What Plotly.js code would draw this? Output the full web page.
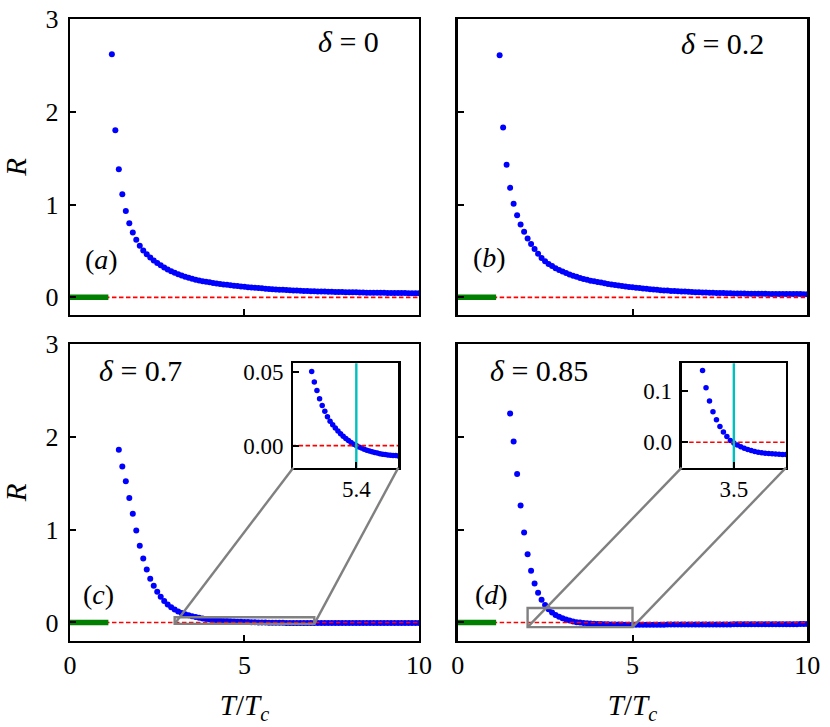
<!DOCTYPE html>
<html>
<head>
<meta charset="utf-8">
<script src="https://cdn.plot.ly/plotly-3.0.1.min.js"></script>
<style>
  html, body { margin: 0; padding: 0; background: #fff; }
  #fig { width: 830px; height: 727px; }
</style>
</head>
<body>
<div id="fig"></div>
<script>
// temperature grid T/Tc shared by all four panels
const TEMP = [
  1.2, 1.3, 1.4, 1.5, 1.6, 1.7, 1.8, 1.9, 2.0, 2.1,
  2.2, 2.3, 2.4, 2.5, 2.6, 2.7, 2.8, 2.9, 3.0, 3.1,
  3.2, 3.3, 3.4, 3.5, 3.6, 3.7, 3.8, 3.9, 4.0, 4.1,
  4.2, 4.3, 4.4, 4.5, 4.6, 4.7, 4.8, 4.9, 5.0, 5.1,
  5.2, 5.3, 5.4, 5.5, 5.6, 5.7, 5.8, 5.9, 6.0, 6.1,
  6.2, 6.3, 6.4, 6.5, 6.6, 6.7, 6.8, 6.9, 7.0, 7.1,
  7.2, 7.3, 7.4, 7.5, 7.6, 7.7, 7.8, 7.9, 8.0, 8.1,
  8.2, 8.3, 8.4, 8.5, 8.6, 8.7, 8.8, 8.9, 9.0, 9.1,
  9.2, 9.3, 9.4, 9.5, 9.6, 9.7, 9.8, 9.9, 10.0
];

// delta = 0
const R_A = [
  2.62, 1.80, 1.38, 1.11, 0.93, 0.80, 0.70, 0.62, 0.555, 0.505,
  0.465, 0.43, 0.398, 0.37, 0.345, 0.322, 0.30, 0.282, 0.265, 0.25,
  0.236, 0.223, 0.211, 0.20, 0.19, 0.182, 0.175, 0.168, 0.162, 0.156,
  0.150, 0.145, 0.140, 0.135, 0.130, 0.126, 0.122, 0.118, 0.114, 0.110,
  0.106, 0.103, 0.100, 0.097, 0.094, 0.091, 0.088, 0.085, 0.083, 0.081,
  0.079, 0.077, 0.075, 0.073, 0.071, 0.070, 0.068, 0.067, 0.065, 0.064,
  0.063, 0.062, 0.061, 0.060, 0.059, 0.058, 0.057, 0.056, 0.055, 0.054,
  0.054, 0.053, 0.052, 0.051, 0.051, 0.050, 0.050, 0.049, 0.049, 0.048,
  0.048, 0.047, 0.047, 0.046, 0.046, 0.045, 0.045, 0.044, 0.044
];

// delta = 0.2
const R_B = [
  2.61, 1.83, 1.43, 1.18, 1.01, 0.885, 0.785, 0.706, 0.635, 0.575,
  0.52, 0.47, 0.425, 0.39, 0.36, 0.337, 0.315, 0.296, 0.279, 0.262,
  0.247, 0.233, 0.221, 0.21, 0.199, 0.189, 0.18, 0.173, 0.166, 0.159,
  0.152, 0.145, 0.139, 0.133, 0.128, 0.123, 0.118, 0.113, 0.108, 0.104,
  0.100, 0.096, 0.092, 0.088, 0.085, 0.081, 0.078, 0.075, 0.073, 0.070,
  0.068, 0.066, 0.064, 0.062, 0.060, 0.058, 0.056, 0.055, 0.053, 0.052,
  0.050, 0.049, 0.048, 0.047, 0.046, 0.045, 0.044, 0.043, 0.042, 0.041,
  0.041, 0.040, 0.040, 0.039, 0.039, 0.038, 0.038, 0.037, 0.037, 0.037,
  0.036, 0.036, 0.036, 0.035, 0.035, 0.035, 0.035, 0.034, 0.034
];

// delta = 0.7
const R_C = [
  null, null, 1.86, 1.68, 1.52, 1.34, 1.17, 0.99, 0.825, 0.69,
  0.57, 0.47, 0.395, 0.33, 0.276, 0.23, 0.193, 0.163, 0.139, 0.119,
  0.103, 0.089, 0.077, 0.067, 0.058, 0.0504, 0.0432, 0.0375, 0.0319, 0.0273,
  0.0233, 0.0197, 0.0165, 0.0142, 0.0120, 0.0100, 0.0081, 0.0064, 0.0048, 0.0034,
  0.0021, 0.0010, 0.0000, -0.0009, -0.0017, -0.0024, -0.0031, -0.0037, -0.0042, -0.0047,
  -0.0051, -0.0055, -0.0058, -0.0061, -0.0063, -0.0065, -0.0067, -0.0068, -0.0070, -0.0071,
  -0.0072, -0.0072, -0.0073, -0.0073, -0.0073, -0.0073, -0.0073, -0.0073, -0.0072, -0.0072,
  -0.0072, -0.0071, -0.0071, -0.0070, -0.0070, -0.0069, -0.0069, -0.0068, -0.0068, -0.0067,
  -0.0067, -0.0066, -0.0066, -0.0065, -0.0065, -0.0064, -0.0064, -0.0063, -0.0063
];

// delta = 0.85
const R_D = [
  null, null, null, 2.25, 1.95, 1.60, 1.26, 0.97, 0.735, 0.556,
  0.42, 0.32, 0.244, 0.187, 0.141, 0.107, 0.081, 0.060, 0.044, 0.031,
  0.020, 0.011, 0.0033, -0.0015, -0.0055, -0.009, -0.012, -0.0145, -0.0165, -0.018,
  -0.0195, -0.0205, -0.0215, -0.022, -0.0227, -0.0232, -0.0236, -0.0239, -0.024, -0.0241,
  -0.0241, -0.0241, -0.024, -0.024, -0.0239, -0.0238, -0.0237, -0.0236, -0.0235, -0.0234,
  -0.0232, -0.0231, -0.023, -0.0228, -0.0227, -0.0225, -0.0224, -0.0222, -0.0221, -0.0219,
  -0.0218, -0.0216, -0.0215, -0.0213, -0.0212, -0.021, -0.0209, -0.0207, -0.0206, -0.0204,
  -0.0203, -0.0201, -0.02, -0.0198, -0.0197, -0.0195, -0.0194, -0.0192, -0.0191, -0.019,
  -0.0188, -0.0187, -0.0186, -0.0184, -0.0183, -0.0182, -0.018, -0.0179, -0.0178
];

// T < Tc segment (green) and R = 0 reference (red dashed)
const T_BELOW = [0, 1.1];
const R_BELOW = [0, 0];
const T_REF = [0, 10];
const R_REF = [0, 0];

// sign change temperatures (cyan lines in insets)
const CROSS_C = 5.4;
const CROSS_D = 3.5;

// zoom windows of the insets
const ZOOM_C_T = [3, 7];
const ZOOM_C_R = [-0.015, 0.056];
const ZOOM_D_T = [2, 5];
const ZOOM_D_R = [-0.05, 0.155];

const FONT = '"Liberation Serif", "DejaVu Serif", serif';
const BLUE = '#0000ff';
const GREY = '#808080';

function dots(y, ax, size) {
  return {
    x: TEMP, y, xaxis: 'x' + ax, yaxis: 'y' + ax,
    type: 'scatter', mode: 'markers',
    marker: { color: BLUE, size, line: { width: 0 } },
    hoverinfo: 'skip', showlegend: false,
  };
}

function refLine(ax) {
  return {
    x: T_REF, y: R_REF, xaxis: 'x' + ax, yaxis: 'y' + ax,
    type: 'scatter', mode: 'lines',
    line: { color: '#ff0000', width: 1.6, dash: '4.5px,2.5px' },
    hoverinfo: 'skip', showlegend: false,
  };
}

function belowLine(ax) {
  return {
    x: T_BELOW, y: R_BELOW, xaxis: 'x' + ax, yaxis: 'y' + ax,
    type: 'scatter', mode: 'lines',
    line: { color: '#007f00', width: 5.5 },
    hoverinfo: 'skip', showlegend: false,
  };
}

function crossLine(t, ax) {
  return {
    x: [t, t], y: [-1, 1], xaxis: 'x' + ax, yaxis: 'y' + ax,
    type: 'scatter', mode: 'lines',
    line: { color: '#00bfbf', width: 2.4 },
    hoverinfo: 'skip', showlegend: false,
  };
}

const data = [
  dots(R_A, '', 6), refLine(''), belowLine(''),
  dots(R_B, '2', 6), refLine('2'), belowLine('2'),
  dots(R_C, '3', 6), refLine('3'), belowLine('3'),
  dots(R_D, '4', 6), refLine('4'), belowLine('4'),
  dots(R_C, '5', 5.5), refLine('5'), crossLine(CROSS_C, '5'),
  dots(R_D, '6', 5.5), refLine('6'), crossLine(CROSS_D, '6'),
];

const axBase = {
  showline: true, mirror: true, linecolor: '#000', linewidth: 2.2,
  ticks: 'inside', ticklen: 6, tickwidth: 2, tickcolor: '#000',
  showgrid: false, zeroline: false, automargin: false, fixedrange: true,
  tickfont: { family: FONT, size: 26, color: '#000' },
};

const xTitle = { text: '<i>T</i>/<i>T</i><sub><i>c</i></sub>', font: { family: FONT, size: 29, color: '#000' }, standoff: 15 };
const yTitle = { text: '<i>R</i>', font: { family: FONT, size: 29, color: '#000' }, standoff: 14 };

const colL = [0.0843, 0.5048];
const colR = [0.5514, 0.9727];
const rowT = [0.5667, 0.9739];
const rowB = [0.1183, 0.5268];

function mainX(domain, anchor, labels) {
  const ax = { ...axBase, domain, anchor, range: [0, 10], tickvals: [0, 5, 10], showticklabels: labels };
  if (labels) ax.title = xTitle;
  return ax;
}
function mainY(domain, anchor, range, labels) {
  const ax = { ...axBase, domain, anchor, range, tickvals: [0, 1, 2, 3], showticklabels: labels, ticklabelstandoff: 4 };
  if (labels) ax.title = yTitle;
  return ax;
}

const insetFont = { family: FONT, size: 23, color: '#000' };

const layout = {
  width: 830, height: 727,
  margin: { l: 0, r: 0, t: 0, b: 0 },
  paper_bgcolor: '#fff', plot_bgcolor: '#fff',
  showlegend: false,
  font: { family: FONT, color: '#000' },
  xaxis:  mainX(colL, 'y', false),
  yaxis:  mainY(rowT, 'x', [-0.19, 3], true),
  xaxis2: mainX(colR, 'y2', false),
  yaxis2: mainY(rowT, 'x2', [-0.19, 3], false),
  xaxis3: mainX(colL, 'y3', true),
  yaxis3: mainY(rowB, 'x3', [-0.2, 3], true),
  xaxis4: mainX(colR, 'y4', true),
  yaxis4: mainY(rowB, 'x4', [-0.2, 3], false),
  xaxis5: { ...axBase, domain: [0.3534, 0.4799], anchor: 'y5', range: ZOOM_C_T,
    tickvals: [CROSS_C], ticktext: ['5.4'], tickfont: insetFont },
  yaxis5: { ...axBase, domain: [0.3567, 0.5003], anchor: 'x5', range: ZOOM_C_R,
    tickvals: [0, 0.05], ticktext: ['0.00', '0.05'], tickfont: insetFont, ticklabelstandoff: 3 },
  xaxis6: { ...axBase, domain: [0.8213, 0.9470], anchor: 'y6', range: ZOOM_D_T,
    tickvals: [CROSS_D], ticktext: ['3.5'], tickfont: insetFont },
  yaxis6: { ...axBase, domain: [0.3567, 0.5003], anchor: 'x6', range: ZOOM_D_R,
    tickvals: [0, 0.1], ticktext: ['0.0', '0.1'], tickfont: insetFont, ticklabelstandoff: 3 },
};

// data -> paper fraction along an axis
function toPaper(ax, v) {
  const d = ax.domain, r = ax.range;
  return d[0] + (v - r[0]) / (r[1] - r[0]) * (d[1] - d[0]);
}

function zoomMarks(mx, my, ix, iy, xr, yr, xref, yref) {
  const x0 = toPaper(mx, xr[0]), x1 = toPaper(mx, xr[1]);
  const y0 = toPaper(my, yr[0]);
  const ln = { color: GREY, width: 2.4 };
  return [
    { type: 'rect', xref, yref, x0: xr[0], x1: xr[1], y0: yr[0], y1: yr[1], line: ln, layer: 'above' },
    { type: 'line', xref: 'paper', yref: 'paper', x0, y0, x1: ix.domain[0], y1: iy.domain[0], line: ln, layer: 'above' },
    { type: 'line', xref: 'paper', yref: 'paper', x0: x1, y0, x1: ix.domain[1], y1: iy.domain[0], line: ln, layer: 'above' },
  ];
}

layout.shapes = [
  ...zoomMarks(layout.xaxis3, layout.yaxis3, layout.xaxis5, layout.yaxis5, ZOOM_C_T, ZOOM_C_R, 'x3', 'y3'),
  ...zoomMarks(layout.xaxis4, layout.yaxis4, layout.xaxis6, layout.yaxis6, ZOOM_D_T, ZOOM_D_R, 'x4', 'y4'),
];

function label(text, x, y, ax, size) {
  return { text, x, y, xref: 'x' + ax, yref: 'y' + ax, showarrow: false,
    xanchor: 'center', yanchor: 'middle', font: { family: FONT, size, color: '#000' } };
}

layout.annotations = [
  label('<i>δ</i> = 0', 7.97, 2.76, '', 30),
  label('<i>δ</i> = 0.2', 7.57, 2.74, '2', 30),
  label('<i>δ</i> = 0.7', 2.03, 2.72, '3', 30),
  label('<i>δ</i> = 0.85', 2.33, 2.72, '4', 30),
  label('(<i>a</i>)', 0.9, 0.41, '', 28),
  label('(<i>b</i>)', 0.92, 0.43, '2', 28),
  label('(<i>c</i>)', 0.83, 0.30, '3', 28),
  label('(<i>d</i>)', 0.97, 0.30, '4', 28),
];

Plotly.newPlot('fig', data, layout, { displayModeBar: false, staticPlot: true });
</script>
</body>
</html>
